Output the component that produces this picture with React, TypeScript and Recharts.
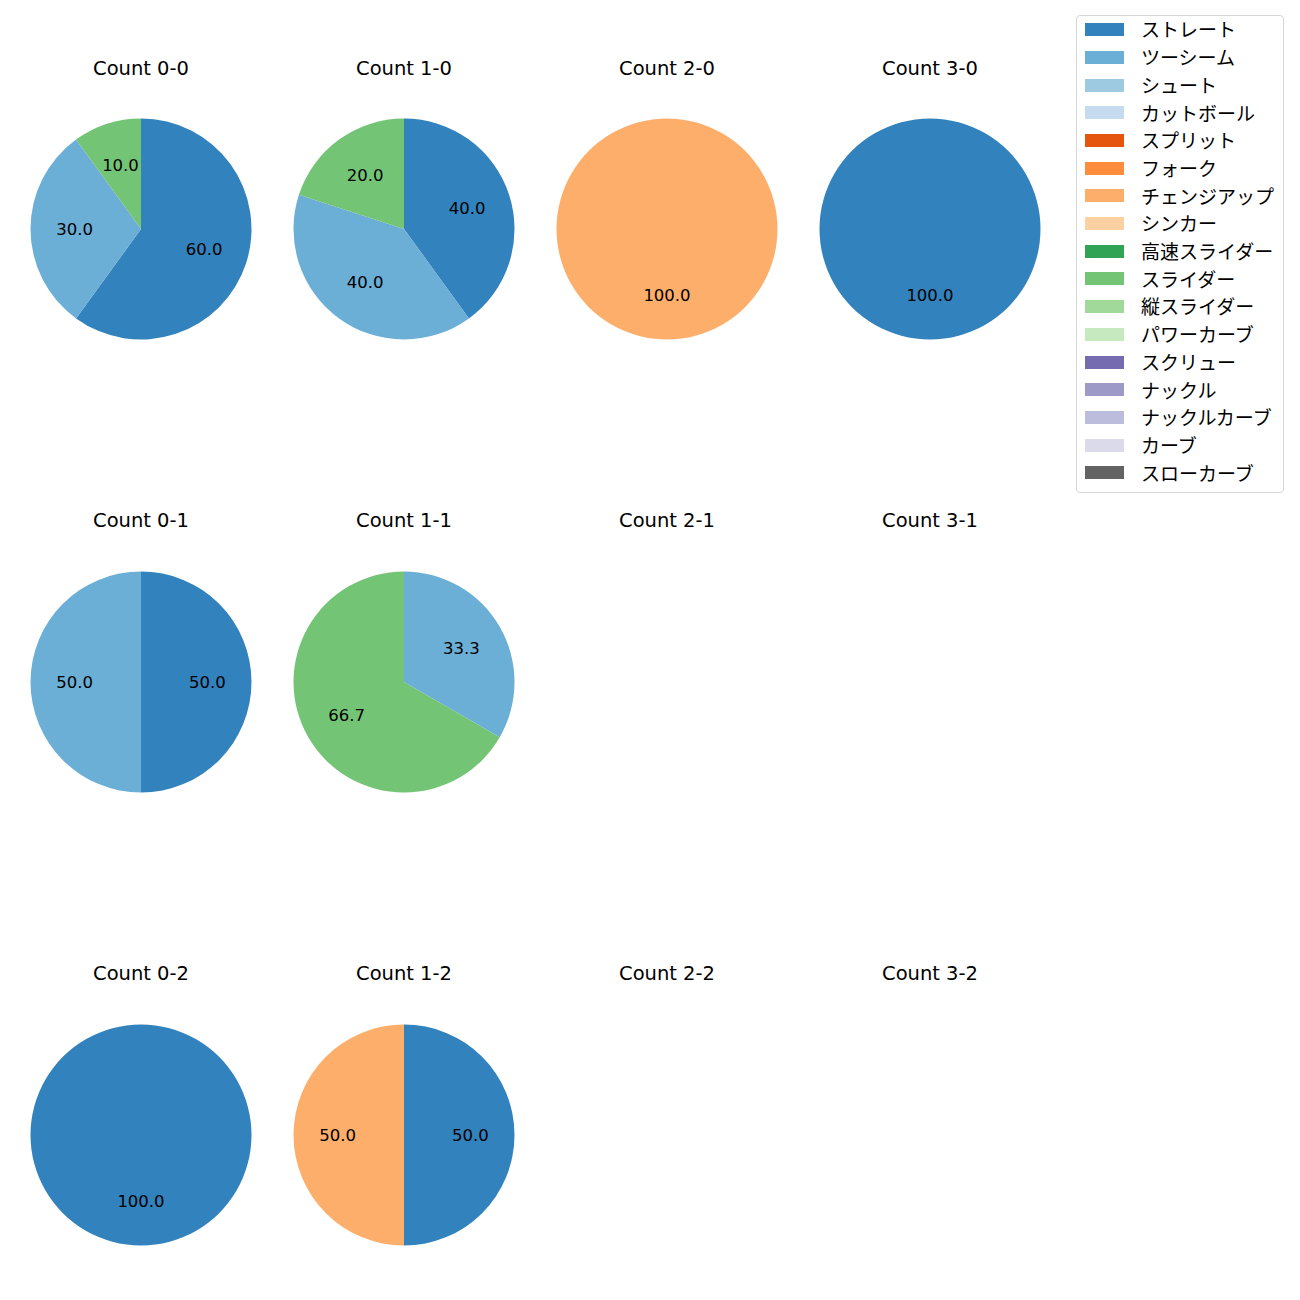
import { PieChart, Pie, Cell } from "recharts";

const pitchTypes = [
  "ストレート", "ツーシーム", "シュート", "カットボール", "スプリット", "フォーク",
  "チェンジアップ", "シンカー", "高速スライダー", "スライダー", "縦スライダー",
  "パワーカーブ", "スクリュー", "ナックル", "ナックルカーブ", "カーブ", "スローカーブ",
];
const pitchColors = [
  "#3182bd", "#6baed6", "#9ecae1", "#c6dbef", "#e6550d", "#fd8d3c",
  "#fdae6b", "#fdd0a2", "#31a354", "#74c476", "#a1d99b", "#c7e9c0",
  "#756bb1", "#9e9ac8", "#bcbddc", "#dadaeb", "#636363",
];

// pitch counts per ball-strike situation, same order as pitchTypes
const count00 = [6, 3, 0, 0, 0, 0, 0, 0, 0, 1, 0, 0, 0, 0, 0, 0, 0];
const count10 = [2, 2, 0, 0, 0, 0, 0, 0, 0, 1, 0, 0, 0, 0, 0, 0, 0];
const count20 = [0, 0, 0, 0, 0, 0, 1, 0, 0, 0, 0, 0, 0, 0, 0, 0, 0];
const count30 = [1, 0, 0, 0, 0, 0, 0, 0, 0, 0, 0, 0, 0, 0, 0, 0, 0];
const count01 = [1, 1, 0, 0, 0, 0, 0, 0, 0, 0, 0, 0, 0, 0, 0, 0, 0];
const count11 = [0, 1, 0, 0, 0, 0, 0, 0, 0, 2, 0, 0, 0, 0, 0, 0, 0];
const count21: number[] = [];
const count31: number[] = [];
const count02 = [1, 0, 0, 0, 0, 0, 0, 0, 0, 0, 0, 0, 0, 0, 0, 0, 0];
const count12 = [1, 0, 0, 0, 0, 0, 1, 0, 0, 0, 0, 0, 0, 0, 0, 0, 0];
const count22: number[] = [];
const count32: number[] = [];

const panels = [
  { title: "Count 0-0", values: count00 },
  { title: "Count 1-0", values: count10 },
  { title: "Count 2-0", values: count20 },
  { title: "Count 3-0", values: count30 },
  { title: "Count 0-1", values: count01 },
  { title: "Count 1-1", values: count11 },
  { title: "Count 2-1", values: count21 },
  { title: "Count 3-1", values: count31 },
  { title: "Count 0-2", values: count02 },
  { title: "Count 1-2", values: count12 },
  { title: "Count 2-2", values: count22 },
  { title: "Count 3-2", values: count32 },
];

const colX = [141, 404, 667, 930];
const rowY = [229, 682, 1135];
const titleY = [69, 521, 974];
const R = 110.5;
const SIZE = 250;
const LATIN = "'DejaVu Sans', 'Noto Sans CJK JP', sans-serif";
const CJK = "'Noto Sans CJK JP', 'DejaVu Sans', sans-serif";
const RAD = Math.PI / 180;

function pctLabel(props: any) {
  const { cx, cy, midAngle, outerRadius, percent } = props;
  const x = cx + 0.6 * outerRadius * Math.cos(-midAngle * RAD);
  const y = cy + 0.6 * outerRadius * Math.sin(-midAngle * RAD);
  return (
    <text x={x} y={y} fill="#000" fontSize={16.5} fontFamily={LATIN} textAnchor="middle" dominantBaseline="central">
      {(percent * 100).toFixed(1)}
    </text>
  );
}

function PiePanel({ title, values, cx, cy, ty }: { title: string; values: number[]; cx: number; cy: number; ty: number }) {
  const data = values
    .map((v, i) => ({ name: pitchTypes[i], value: v, color: pitchColors[i] }))
    .filter((d) => d.value > 0);
  return (
    <>
      <div
        style={{
          position: "absolute", left: cx - 100, top: ty - 12, width: 200, height: 24,
          textAlign: "center", fontSize: 19.5, lineHeight: "24px", fontFamily: LATIN, color: "#000",
        }}
      >
        {title}
      </div>
      {data.length > 0 && (
        <div style={{ position: "absolute", left: cx - SIZE / 2, top: cy - SIZE / 2 }}>
          <PieChart width={SIZE} height={SIZE} margin={{ top: 0, right: 0, bottom: 0, left: 0 }}>
            <Pie
              data={data}
              dataKey="value"
              nameKey="name"
              cx={SIZE / 2}
              cy={SIZE / 2}
              outerRadius={R}
              startAngle={90}
              endAngle={-270}
              stroke="none"
              label={pctLabel}
              labelLine={false}
              isAnimationActive={false}
            >
              {data.map((d) => (
                <Cell key={d.name} fill={d.color} />
              ))}
            </Pie>
          </PieChart>
        </div>
      )}
    </>
  );
}

export default function App() {
  return (
    <div style={{ position: "absolute", left: 0, top: 0, width: 1300, height: 1300, background: "#fff", overflow: "hidden" }}>
      {panels.map((p, i) => (
        <PiePanel
          key={p.title}
          title={p.title}
          values={p.values}
          cx={colX[i % 4]}
          cy={rowY[Math.floor(i / 4)]}
          ty={titleY[Math.floor(i / 4)]}
        />
      ))}
      <div
        style={{
          position: "absolute", left: 1076, top: 15, width: 206, height: 476,
          border: "1px solid #d6d6d6", borderRadius: 4, background: "#fff",
        }}
      >
        {pitchTypes.map((name, i) => (
          <div key={name} style={{ position: "absolute", left: 0, top: -0.6 + i * 27.7, height: 28, width: 206 }}>
            <div style={{ position: "absolute", left: 8, top: 7.8, width: 39, height: 13, background: pitchColors[i] }} />
            <div
              style={{
                position: "absolute", left: 64, top: 0, height: 28, lineHeight: "28px",
                fontSize: 19, fontFamily: CJK, color: "#000", whiteSpace: "nowrap",
              }}
            >
              {name}
            </div>
          </div>
        ))}
      </div>
    </div>
  );
}
